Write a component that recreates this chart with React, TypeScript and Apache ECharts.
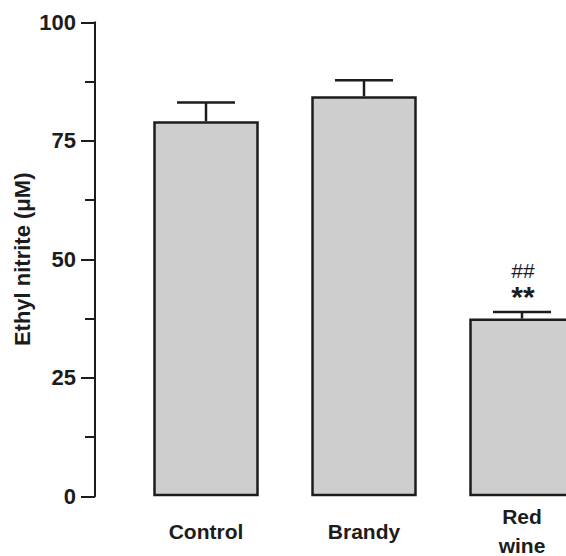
import React, { useEffect, useRef } from "react";
import * as echarts from "echarts";

const categories = ["Control", "Brandy", "Red\nwine"];
const means = [79.1, 84.4, 37.5];
const errors = [4.0, 3.4, 1.4];
const annotations = ["", "", "##\n**"];
const yTicks = { min: 0, max: 100, interval: 25 };
const yTitle = "Ethyl nitrite (\u03bcM)";

const FONT = "'Liberation Sans', Arial, Helvetica, sans-serif";
const INK = "#1c1c1c";

export default function App() {
  const ref = useRef<HTMLDivElement>(null);
  useEffect(() => {
    if (!ref.current) return;
    const chart = echarts.init(ref.current, null, { renderer: "svg" });
    chart.setOption({
      animation: false,
      backgroundColor: "#ffffff",
      grid: {
        left: 127,
        top: 22.3,
        bottom: 59.7,
        width: 474,
        containLabel: false,
        outerBoundsMode: "none",
      },
      xAxis: {
        type: "category",
        data: categories,
        axisLine: { show: false },
        axisTick: { show: false },
        axisLabel: {
          color: INK,
          fontFamily: FONT,
          fontWeight: "bold",
          fontSize: 21,
          lineHeight: 29,
          verticalAlign: "middle",
          margin: 35,
        },
      },
      yAxis: {
        type: "value",
        min: yTicks.min,
        max: yTicks.max,
        interval: yTicks.interval,
        offset: 32,
        name: yTitle,
        nameLocation: "middle",
        nameGap: 62,
        nameMoveOverlap: false,
        nameRotate: 90,
        nameTextStyle: { color: INK, fontFamily: FONT, fontWeight: "bold", fontSize: 22 },
        axisLine: { show: true, lineStyle: { color: INK, width: 2 } },
        axisTick: { show: true, length: 14, lineStyle: { color: INK, width: 2 } },
        minorTick: { show: true, splitNumber: 2, length: 10, lineStyle: { color: INK, width: 2 } },
        splitLine: { show: false },
        axisLabel: {
          color: INK,
          fontFamily: FONT,
          fontWeight: "bold",
          fontSize: 22,
          margin: 19,
        },
      },
      series: [
        {
          type: "bar",
          data: means,
          barWidth: 105.5,
          itemStyle: { color: "#cecece", borderColor: INK, borderWidth: 2.5 },
        },
        {
          type: "custom",
          clip: false,
          data: means.map((m, i) => [i, m, errors[i]]),
          renderItem: (params: any, api: any) => {
            const i = api.value(0);
            const m = api.value(1);
            const e = api.value(2);
            const base = api.coord([i, m]);
            const top = api.coord([i, m + e]);
            const half = 29;
            const children: any[] = [
              {
                type: "line",
                shape: { x1: base[0], y1: base[1], x2: top[0], y2: top[1] },
                style: { stroke: INK, lineWidth: 2.5 },
              },
              {
                type: "line",
                shape: { x1: top[0] - half, y1: top[1], x2: top[0] + half, y2: top[1] },
                style: { stroke: INK, lineWidth: 2.5 },
              },
            ];
            const ann = annotations[params.dataIndex];
            if (ann) {
              const parts = ann.split("\n");
              children.push({
                type: "text",
                x: top[0] + 1,
                y: top[1] - 41,
                style: {
                  text: parts[0],
                  fill: INK,
                  font: `21px ${FONT}`,
                  textAlign: "center",
                  textVerticalAlign: "middle",
                },
              });
              children.push({
                type: "text",
                x: top[0] + 1,
                y: top[1] - 15,
                style: {
                  text: parts[1],
                  fill: INK,
                  font: `bold 30px ${FONT}`,
                  textAlign: "center",
                  textVerticalAlign: "middle",
                },
              });
            }
            return { type: "group", children };
          },
        },
      ],
    });
    return () => chart.dispose();
  }, []);
  return (
    <div
      ref={ref}
      style={{ position: "fixed", left: 0, top: 0, width: 566, height: 556, background: "#fff" }}
    />
  );
}
